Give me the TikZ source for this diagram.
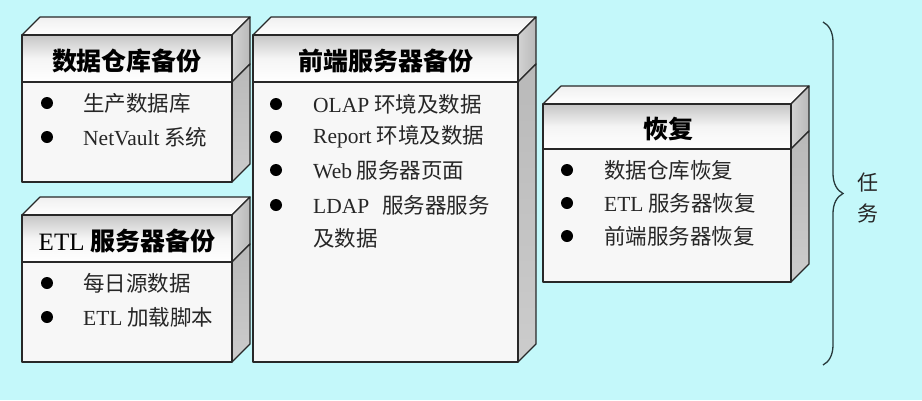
\documentclass[tikz,border=0pt]{standalone}
\usepackage{fontspec}
\setmainfont{Liberation Serif}
\newfontfamily\cjk{Noto Sans CJK SC}
\usetikzlibrary{decorations.pathreplacing}
\newcommand\lat[1]{{\mdseries\rmfamily #1}}
\definecolor{bgcyan}{RGB}{196,248,250}
\definecolor{edgecol}{RGB}{40,40,40}
\definecolor{bracecol}{RGB}{40,58,60}
\def\dep{18}
\tikzset{
  edge/.style={draw=edgecol, line width=1.2pt, line join=round},
  topface/.style={edge, top color=gray!12, bottom color=white},
  sideup/.style={edge, left color=gray!35, right color=gray!55},
  sidelow/.style={edge, top color=gray!55, bottom color=gray!40},
  headface/.style={edge, top color=gray!45, bottom color=white, middle color=gray!8},
  bodyface/.style={edge, fill=gray!6},
  head/.style={font=\cjk\bfseries\fontsize{25}{28}\selectfont, text=black, inner sep=0pt},
  item/.style={font=\cjk\fontsize{21.5}{26}\selectfont, text=black!85, anchor=west, inner sep=0pt},
  dot/.style={circle, fill=black, inner sep=0pt, minimum size=12pt},
}
\newcommand\cubebox[5]{%
  \path[topface] (#1,#2) -- ({#1+\dep},{#2-\dep}) -- ({#3+\dep},{#2-\dep}) -- (#3,#2) -- cycle;
  \path[sideup] (#3,#2) -- ({#3+\dep},{#2-\dep}) -- ({#3+\dep},{#4-\dep}) -- (#3,#4) -- cycle;
  \path[sidelow] (#3,#4) -- ({#3+\dep},{#4-\dep}) -- ({#3+\dep},{#5-\dep}) -- (#3,#5) -- cycle;
  \path[headface] (#1,#2) rectangle (#3,#4);
  \path[bodyface] (#1,#4) rectangle (#3,#5);
}
\begin{document}
\begin{tikzpicture}[x=1pt,y=-1pt]
\useasboundingbox (0,0) rectangle (922,400);
\fill[bgcyan] (0,0) rectangle (922,400);

% Box 1
\cubebox{22}{35}{232}{82}{182}
\node[head] (h1) at (127,61) {数据仓库备份};
\node[dot] (d11) at (47,103) {};
\node[item] (t11) at (83,103) {生产数据库};
\node[dot] (d12) at (47,137) {};
\node[item] (t12) at (83,137) {\lat{NetVault} 系统};

% Box 2
\cubebox{22}{215}{232}{262}{362}
\node[head] (h2) at (127,241) {\lat{ETL} 服务器备份};
\node[dot] (d21) at (47,283) {};
\node[item] (t21) at (83,283) {每日源数据};
\node[dot] (d22) at (47,317) {};
\node[item] (t22) at (83,317) {\lat{ETL} 加载脚本};

% Box 3
\cubebox{253}{35}{518}{82}{362}
\node[head] (h3) at (386,61) {前端服务器备份};
\node[dot] (d31) at (276,104) {};
\node[item] (t31) at (313,104) {\lat{OLAP} 环境及数据};
\node[dot] (d32) at (276,137) {};
\node[item] (t32) at (313,137) {\lat{Report} 环境及数据};
\node[dot] (d33) at (276,170) {};
\node[item] (t33) at (313,170) {\lat{Web} 服务器页面};
\node[dot] (d34) at (276,205) {};
\node[item] (t34) at (313,205) {\lat{LDAP}\hspace{0.6em}服务器服务};
\node[item] (t35) at (313,238) {及数据};

% Box 4
\cubebox{543}{104}{791}{149}{282}
\node[head] (h4) at (668,129) {恢复};
\node[dot] (d41) at (567,170) {};
\node[item] (t41) at (604,170) {数据仓库恢复};
\node[dot] (d42) at (567,203) {};
\node[item] (t42) at (604,203) {\lat{ETL} 服务器恢复};
\node[dot] (d43) at (567,236) {};
\node[item] (t43) at (604,236) {前端服务器恢复};

% Brace
\coordinate (bt) at (823,22);
\coordinate (bb) at (823,365);
\draw[bracecol, line width=1.3pt, decorate, decoration={brace, amplitude=20pt}] (bt) -- (bb);
\node[font=\cjk\fontsize{21}{31}\selectfont, text=black!85, align=center, inner sep=0pt] (task) at (868,198) {任\\务};
\end{tikzpicture}
\end{document}
